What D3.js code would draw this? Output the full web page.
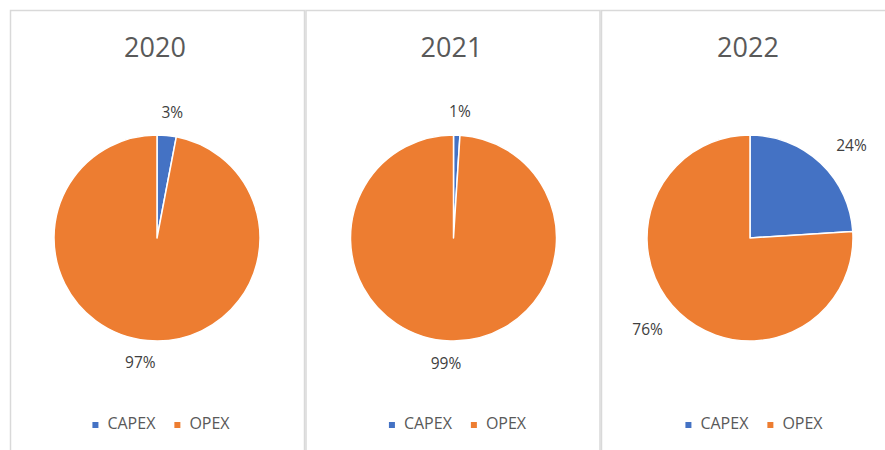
<!DOCTYPE html>
<html><head><meta charset="utf-8">
<script src="https://cdn.jsdelivr.net/npm/d3@7"></script>
<style>body{margin:0;background:#fff;} svg{display:block;} text{font-family:"Open Sans",sans-serif;}</style>
</head><body>
<svg id="c" width="885" height="450"></svg>
<script>
const years = ["2020", "2021", "2022"];
const categories = ["CAPEX", "OPEX"];
const capexPct = [3, 1, 24];
const opexPct = [97, 99, 76];
const colors = ["#4472C4", "#ED7D31"];

const svg = d3.select("#c");
const panelW = 294, panelStep = 295.5, panelX0 = 10, panelY0 = 10;
const radius = 103, pieCY = 238;
const color = d3.scaleOrdinal().domain(categories).range(colors);
const pie = d3.pie().sort(null).value(d => d.v);
const arc = d3.arc().innerRadius(0).outerRadius(radius);

years.forEach((yr, i) => {
  const x0 = panelX0 + i * panelStep;
  const cx = x0 + panelW / 2 + i;
  const g = svg.append("g");
  g.append("rect").attr("x", x0 + 0.5).attr("y", panelY0 + 0.5)
    .attr("width", panelW).attr("height", 500)
    .attr("fill", "none").attr("stroke", "#D9D9D9").attr("stroke-width", 1.5);
  g.append("text").attr("x", cx - 2).attr("y", 57).attr("text-anchor", "middle")
    .attr("font-size", 27).attr("fill", "#595959").text(yr);
  const data = [{k: categories[0], v: capexPct[i]}, {k: categories[1], v: opexPct[i]}];
  const arcs = pie(data);
  const pg = g.append("g").attr("transform", `translate(${cx},${pieCY})`);
  pg.selectAll("path").data(arcs).join("path")
    .attr("d", arc).attr("fill", d => color(d.data.k))
    .attr("stroke", "#fff").attr("stroke-width", 1.5).attr("stroke-linejoin", "round");
  arcs.forEach(a => {
    const mid = (a.startAngle + a.endAngle) / 2;
    const ux = Math.sin(mid), uy = -Math.cos(mid);
    const t = pg.append("text").attr("font-size", 15.5).attr("fill", "#404040")
      .attr("text-anchor", "middle").text(a.data.v + "%");
    const w = t.node().getComputedTextLength();
    const R = 126;
    const lx = ux * R + ux * (w / 2 + 4) + (ux >= 0 ? 2 : -3);
    const ly = uy * R;
    t.attr("x", lx).attr("y", ly + 5);
  });
  // legend
  const lg = g.append("g");
  let lx = 0;
  categories.forEach((c, j) => {
    lg.append("rect").attr("x", lx).attr("y", 422).attr("width", 6).attr("height", 6).attr("fill", color(c));
    const tx = lg.append("text").attr("x", lx + 15).attr("y", 429).attr("font-size", 16)
      .attr("fill", "#595959").text(c);
    lx += 15 + tx.node().getComputedTextLength() + 19;
  });
  const totalW = lx - 19;
  lg.attr("transform", `translate(${cx + 4 - totalW / 2},0)`);
});
</script>
</body></html>
